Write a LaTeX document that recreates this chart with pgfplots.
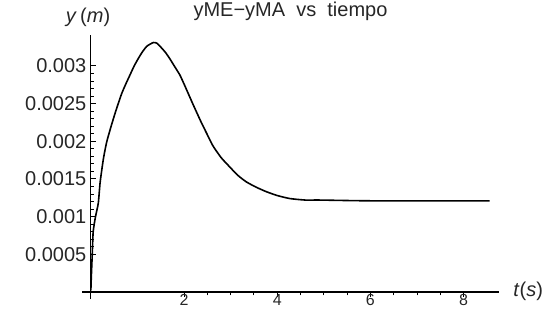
\documentclass[border=0pt]{standalone}
\usepackage{pgfplots}
\pgfplotsset{compat=1.18}
\usepackage{fontspec}
\setmainfont{Liberation Sans}
\begin{document}
\begin{tikzpicture}
\begin{axis}[
  at={(82pt,15pt)}, anchor=south west,
  scale only axis, width=417pt, height=264pt,
  xmin=-0.19, xmax=8.76, ymin=-0.000093, ymax=0.00341,
  axis lines=middle,
  axis line style={-, line width=1.2pt, black},
  every inner x axis line/.append style={-},
  every inner y axis line/.append style={-},
  font=\fontsize{20}{24}\selectfont,
  scaled y ticks=false, scaled x ticks=false,
  xtick={2,4,6,8}, xticklabels={2,4,6,8},
  ytick={0.0005,0.001,0.0015,0.002,0.0025,0.003},
  yticklabels={0.0005,0.001,0.0015,0.002,0.0025,0.003},
  minor x tick num=3, minor y tick num=4,
  xtick align=outside, ytick align=inside,
  tickwidth=5pt, subtickwidth=3.5pt,
  major tick style={black, line width=1pt},
  minor tick style={black, line width=0.9pt},
  yticklabel style={anchor=east, xshift=-1pt, text=black!85},
  xticklabel style={anchor=north, yshift=4pt, inner sep=1pt, text=black!85, font=\fontsize{16}{17}\selectfont},
  title={yME−yMA\ \ vs\ \ tiempo},
  title style={at={(axis description cs:0.5,1)}, anchor=center, yshift=18pt, text=black!85},
  ylabel={\textit{y}\,(\textit{m})},
  ylabel style={at={(axis description cs:0.0144,1)}, anchor=center, rotate=0, yshift=18pt, text=black!85},
  xlabel={\textit{t}(\textit{s})},
  xlabel style={at={(axis description cs:1.07,0.03)}, anchor=center, text=black!85},
  clip=false,
]
\addplot[black, line width=1.6pt, smooth, tension=0.35] coordinates {
(0,0.00002) (0.01,0.0002) (0.03,0.0005) (0.05,0.0008) (0.1,0.00100)
(0.16,0.00118) (0.2,0.00146) (0.27,0.00177) (0.34,0.00199) (0.44,0.00221)
(0.55,0.00243) (0.66,0.00263) (0.75,0.00276) (0.84,0.00288) (0.93,0.00300)
(1.02,0.00310) (1.1,0.00318) (1.2,0.00326) (1.34,0.00331) (1.42,0.00330)
(1.5,0.00325) (1.6,0.00318) (1.7,0.00309) (1.8,0.00299) (1.91,0.00288)
(2.0,0.00276) (2.1,0.00262) (2.2,0.00248) (2.37,0.00225) (2.45,0.00215)
(2.62,0.00194) (2.8,0.00178) (2.98,0.00166) (3.15,0.00155) (3.34,0.00146)
(3.55,0.00139) (3.77,0.00133) (4.0,0.00128) (4.27,0.00124) (4.6,0.00122)
(4.91,0.00122) (6,0.00121) (8.56,0.00121)
};
\end{axis}
\pgfresetboundingbox
\path[use as bounding box] (0,0) rectangle (554pt,314pt);
\end{tikzpicture}
\end{document}
